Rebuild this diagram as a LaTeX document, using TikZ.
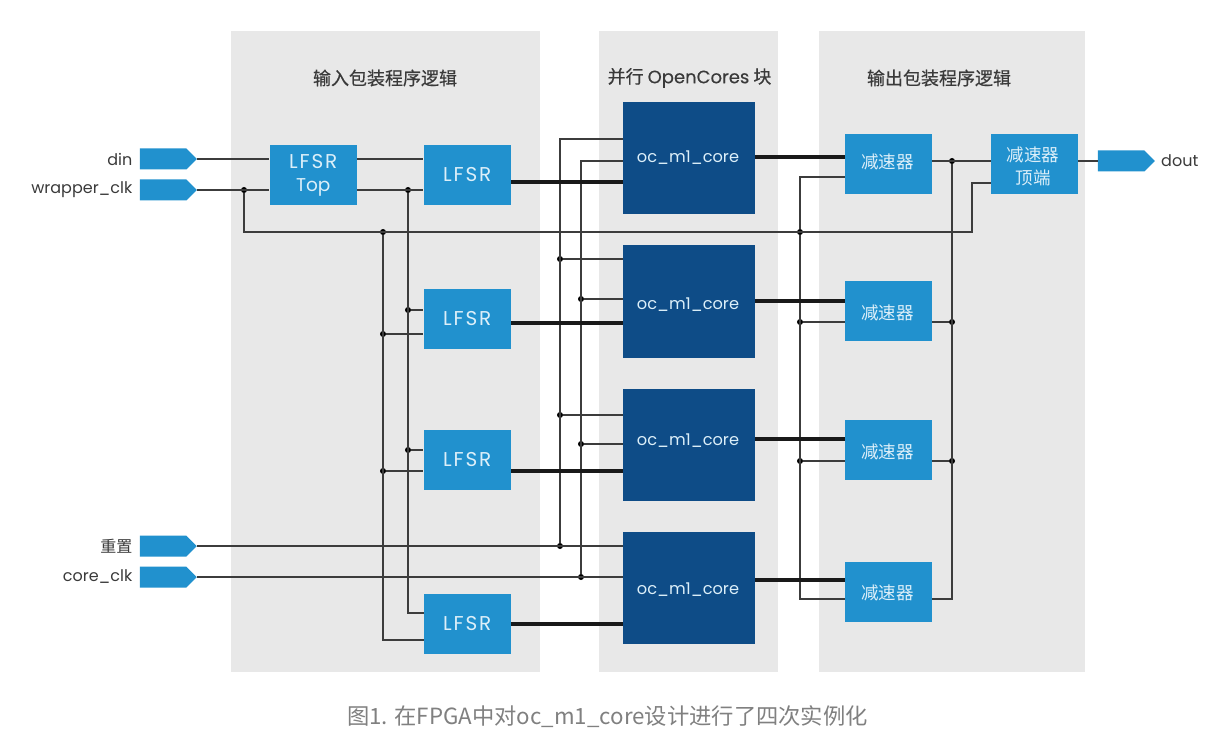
\documentclass[tikz,border=0pt]{standalone}
\usepackage{fontspec}
\usepackage{xcolor}
\usepackage{tikz}
\usetikzlibrary{positioning,shapes.symbols}
\setmainfont{Poppins}
\newfontfamily\cjk{Noto Sans CJK SC}
\newfontfamily\cjkheavy[FakeBold=0.5]{Noto Sans CJK SC}
\newfontfamily\latinheavy[FakeBold=0.3]{Poppins}
\newfontfamily\lfsrfont[LetterSpace=9]{Poppins}
\definecolor{panelgrey}{HTML}{E8E8E8}
\definecolor{lightblock}{HTML}{2191CE}
\definecolor{darkblock}{HTML}{0E4C87}
\definecolor{wiregrey}{HTML}{3C3C3C}
\definecolor{blocktext}{HTML}{DCEFF9}
\definecolor{labeltext}{HTML}{3A3A3A}
\definecolor{captiontext}{HTML}{808080}
\tikzset{
    panel/.style={fill=panelgrey, draw=none},
    paneltitle/.style={text=labeltext, font=\cjkheavy\fontsize{18}{20}\selectfont},
    lfsrbox/.style={fill=lightblock, text=blocktext, minimum width=87.5pt, minimum height=60pt, inner sep=0pt, align=center, font=\lfsrfont\fontsize{20}{23}\selectfont},
    decbox/.style={fill=lightblock, minimum width=87.5pt, minimum height=60pt, inner sep=0pt},
    dectext/.style={text=blocktext, inner sep=0pt, align=center, font=\cjk\fontsize{17.5}{23}\selectfont},
    corebox/.style={fill=darkblock, minimum width=132pt, minimum height=112pt, inner sep=0pt},
    coretext/.style={text=blocktext, inner sep=0pt, font=\fontsize{16.2}{20}\selectfont},
    pintag/.style={shape=signal, signal to=east, signal from=nowhere, signal pointer angle=90, fill=lightblock, minimum width=57pt, minimum height=21pt, inner sep=0pt},
    pinlabel/.style={text=labeltext, inner sep=0pt, font=\fontsize{16}{18}\selectfont},
    wire/.style={draw=wiregrey, line width=1.4pt},
    busline/.style={draw=black!90, line width=3.2pt},
    jdot/.style={circle, fill=black, minimum size=6pt, inner sep=0pt}
}
\begin{document}
\begin{tikzpicture}[x=1pt, y=-1pt]
            \useasboundingbox (0,0) rectangle (1208,754);
            \fill[white] (0,0) rectangle (1208,754);
            \fill[panel] (231,31) rectangle (540,672);
            \fill[panel] (599,31) rectangle (778,672);
            \fill[panel] (819,31) rectangle (1085,672);

            \node[paneltitle] (titlein) at (385,78) {输入包装程序逻辑};
            \node[paneltitle] (titlecore) at (689.5,78) {并行 {\latinheavy OpenCores} 块};
            \node[paneltitle] (titleout) at (939,78) {输出包装程序逻辑};

            \node[pintag] (din) at (163,159) {};
            \node[pintag] (wrapclk) at (163,190) {};
            \node[pintag] (rst) at (163,546) {};
            \node[pintag] (coreclk) at (163,577) {};
            \node[pintag] (dout) at (1121,161) {};

            \node[pinlabel, left=7pt of din] (dinlabel) {din};
            \node[pinlabel, left=7pt of wrapclk] (wrapclklabel) {wrapper\_clk};
            \node[pinlabel, left=7pt of rst, font=\cjk\fontsize{16}{18}\selectfont] (rstlabel) {重置};
            \node[pinlabel, left=7pt of coreclk] (coreclklabel) {core\_clk};
            \node[pinlabel, right=6pt of dout] (doutlabel) {dout};

            \node[lfsrbox] (top) at (313.25,175) {LFSR\\{\normalfont\fontsize{18.5}{23}\selectfont Top}};
            \node[lfsrbox] (lfsr1) at (467.25,175) {LFSR};
            \node[lfsrbox] (lfsr2) at (467.25,319) {LFSR};
            \node[lfsrbox] (lfsr3) at (467.25,459.5) {LFSR};
            \node[lfsrbox] (lfsr4) at (467.25,623.5) {LFSR};

            \node[corebox] (core1) at (689,158) {};
            \node[corebox] (core2) at (689,301.5) {};
            \node[corebox] (core3) at (689,444.5) {};
            \node[corebox] (core4) at (689,588) {};
            \node[coretext] (core1text) at (688,158) {oc\_m1\_core};
            \node[coretext] (core2text) at (688,305) {oc\_m1\_core};
            \node[coretext] (core3text) at (688,441) {oc\_m1\_core};
            \node[coretext] (core4text) at (688,590) {oc\_m1\_core};

            \node[decbox] (dec1) at (888.5,164) {};
            \node[decbox] (dec2) at (888.5,311) {};
            \node[decbox] (dec3) at (888.5,449.5) {};
            \node[decbox] (dec4) at (888.5,591.5) {};
            \node[decbox] (dectop) at (1034.5,164) {};
            \node[dectext] (dec1text) at (887.5,162) {减速器};
            \node[dectext] (dec2text) at (887.5,313) {减速器};
            \node[dectext] (dec3text) at (887.5,452) {减速器};
            \node[dectext] (dec4text) at (887.5,593) {减速器};
            \node[dectext] (dectoptext) at (1033,166.5) {减速器\\顶端};

            \node[jdot] (jwrap) at (244,190) {};
            \node[jdot] (jtop) at (408,190) {};
            \node[jdot] (jbus) at (383,232) {};
            \node[jdot] (jclk2) at (408,310) {};
            \node[jdot] (jrst2) at (383,334) {};
            \node[jdot] (jclk3) at (408,450) {};
            \node[jdot] (jrst3) at (383,471) {};
            \node[jdot] (jcrst2) at (560,259) {};
            \node[jdot] (jcclk2) at (581,299) {};
            \node[jdot] (jcrst3) at (560,415) {};
            \node[jdot] (jcclk3) at (581,444) {};
            \node[jdot] (jcrst4) at (560,546) {};
            \node[jdot] (jcclk4) at (581,577) {};
            \node[jdot] (jdbus) at (800,232) {};
            \node[jdot] (jdin2) at (800,322) {};
            \node[jdot] (jdin3) at (800,461) {};
            \node[jdot] (jdout1) at (952,161) {};
            \node[jdot] (jdout2) at (952,322) {};
            \node[jdot] (jdout3) at (952,461) {};

            \coordinate (kink) at (972,232);
            \coordinate (toppin) at (991,183);
            \coordinate (lfsr4clk) at (423.5,613);
            \coordinate (lfsr4rst) at (423.5,640);
            \coordinate (core1rst) at (623,139);
            \coordinate (core1clk) at (623,161);
            \coordinate (dec1clk) at (845,177);
            \coordinate (dec4clk) at (845,599);
            \coordinate (dec4out) at (932,599);
            \coordinate (lfsr1q) at (511,182);
            \coordinate (lfsr2q) at (511,323);
            \coordinate (lfsr3q) at (511,471);
            \coordinate (lfsr4q) at (511,624);
            \coordinate (core1q) at (755,157);
            \coordinate (core2q) at (755,301);
            \coordinate (core3q) at (755,439);
            \coordinate (core4q) at (755,580);

            \draw[wire] (din.east) -- (din.east -| top.west);
            \draw[wire] (top.east |- din.east) -- (din.east -| lfsr1.west);
            \draw[wire] (wrapclk.east) -- (wrapclk.east -| top.west);
            \draw[wire] (top.east |- wrapclk.east) -- (wrapclk.east -| lfsr1.west);
            \draw[wire] (jwrap) |- (kink) |- (toppin);
            \draw[wire] (jtop) |- (lfsr4clk);
            \draw[wire] (jbus) |- (lfsr4rst);
            \draw[wire] (jclk2) -- (jclk2 -| lfsr2.west);
            \draw[wire] (jrst2) -- (jrst2 -| lfsr2.west);
            \draw[wire] (jclk3) -- (jclk3 -| lfsr3.west);
            \draw[wire] (jrst3) -- (jrst3 -| lfsr3.west);

            \draw[wire] (rst.east) -- (rst.east -| core4.west);
            \draw[wire] (coreclk.east) -- (coreclk.east -| core4.west);
            \draw[wire] (jcrst4) |- (core1rst);
            \draw[wire] (jcclk4) |- (core1clk);
            \draw[wire] (jcrst2) -- (jcrst2 -| core2.west);
            \draw[wire] (jcclk2) -- (jcclk2 -| core2.west);
            \draw[wire] (jcrst3) -- (jcrst3 -| core3.west);
            \draw[wire] (jcclk3) -- (jcclk3 -| core3.west);

            \draw[wire] (jdbus) |- (dec1clk);
            \draw[wire] (jdbus) |- (dec4clk);
            \draw[wire] (jdin2) -- (jdin2 -| dec2.west);
            \draw[wire] (jdin3) -- (jdin3 -| dec3.west);
            \draw[wire] (jdout1 -| dec1.east) -- (jdout1 -| dectop.west);
            \draw[wire] (jdout1) |- (dec4out);
            \draw[wire] (jdout2 -| dec2.east) -- (jdout2);
            \draw[wire] (jdout3 -| dec3.east) -- (jdout3);
            \draw[wire] (dectop.east |- dout.west) -- (dout.west);

            \draw[busline] (lfsr1q) -- (lfsr1q -| core1.west);
            \draw[busline] (lfsr2q) -- (lfsr2q -| core2.west);
            \draw[busline] (lfsr3q) -- (lfsr3q -| core3.west);
            \draw[busline] (lfsr4q) -- (lfsr4q -| core4.west);
            \draw[busline] (core1q) -- (core1q -| dec1.west);
            \draw[busline] (core2q) -- (core2q -| dec2.west);
            \draw[busline] (core3q) -- (core3q -| dec3.west);
            \draw[busline] (core4q) -- (core4q -| dec4.west);

            \node[text=captiontext, inner sep=0pt, font=\cjk\fontsize{22.3}{26}\selectfont] (caption) at (607.5,717) {图1. 在FPGA中对oc\_m1\_core设计进行了四次实例化};
        \end{tikzpicture}
\end{document}
